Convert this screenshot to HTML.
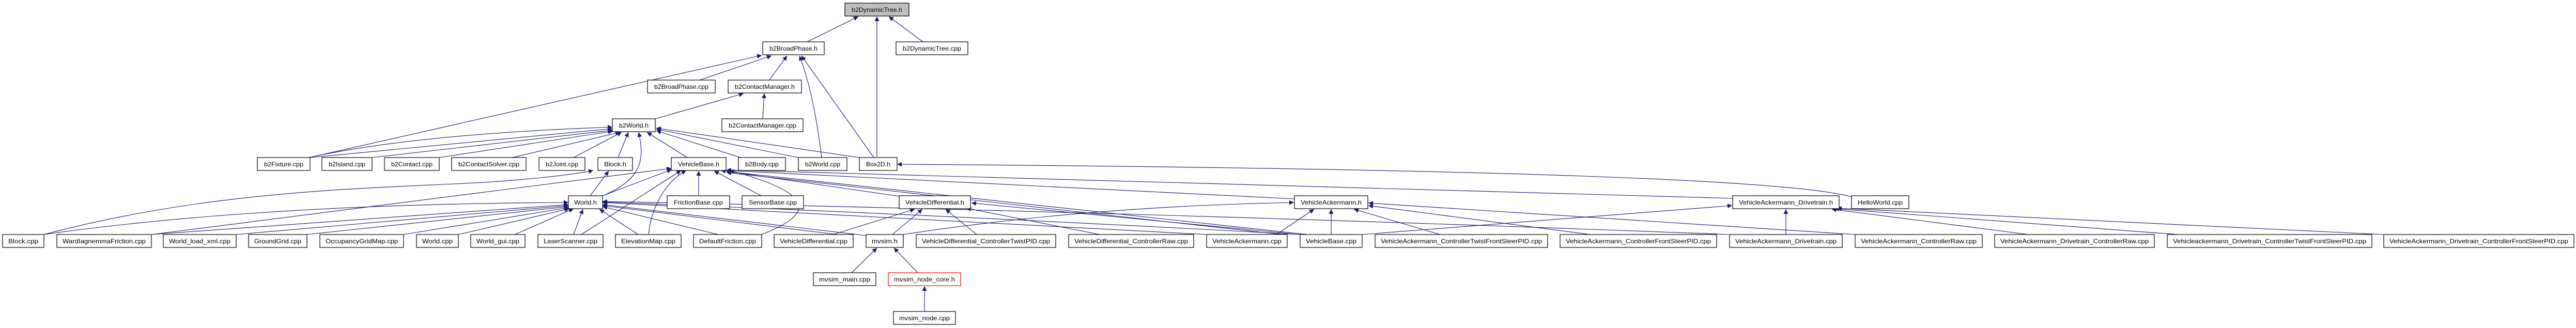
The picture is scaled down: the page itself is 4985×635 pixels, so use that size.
<!DOCTYPE html>
<html><head><meta charset="utf-8"><style>
html,body{margin:0;padding:0;background:#fff;}
svg{display:block;}
text{font-family:"Liberation Sans",sans-serif;font-size:12px;fill:#000;}
.e{fill:none;stroke:#191970;stroke-width:1.1;}
.n{fill:#fff;stroke:#000;stroke-width:1.2;}
</style></head><body>
<svg width="4985" height="635" viewBox="0 0 4985 635" xmlns="http://www.w3.org/2000/svg">
<defs><marker id="a" viewBox="0 0 10 10" refX="10" refY="5" markerWidth="9" markerHeight="9" markerUnits="userSpaceOnUse" orient="auto"><path d="M0,0 L10,5 L0,10 z" fill="#191970"/></marker></defs>
<g class="e" marker-end="url(#a)">
<path d="M1562,81 L1661,32"/>
<path d="M1697,305 L1697,32"/>
<path d="M1786,81 L1720,32"/>
<path d="M598,305 L1474,107"/>
<path d="M1354,155 L1493,108"/>
<path d="M1489,155 L1523,108"/>
<path d="M1590,305 Q1575,180 1547,108"/>
<path d="M1691,305 L1551,108"/>
<path d="M1268,230 L1439,181"/>
<path d="M1476,230 L1479,181"/>
<path d="M598,305 Q800,260 1185,246"/>
<path d="M600,305 L1185,249"/>
<path d="M720,305 L1185,252"/>
<path d="M850,305 L1186,254"/>
<path d="M991,305 L1200,256"/>
<path d="M1110,305 L1203,256"/>
<path d="M1196,305 L1216,256"/>
<path d="M1166,379 C1250,345 1245,300 1236,256"/>
<path d="M1330,305 L1252,256"/>
<path d="M1433,305 L1270,253"/>
<path d="M1545,305 L1270,250"/>
<path d="M1663,305 L1270,248"/>
<path d="M85,454 C400,370 700,365 900,355 C1000,350 1100,340 1148,330"/>
<path d="M1142,379 L1178,331"/>
<path d="M1166,379 L1300,328"/>
<path d="M293,454 L1299,326"/>
<path d="M1125,454 L1318,330"/>
<path d="M1255,454 C1260,400 1290,350 1328,330"/>
<path d="M1474,454 C1560,420 1600,380 1412,330"/>
<path d="M1352,379 L1352,331"/>
<path d="M1473,379 L1382,331"/>
<path d="M1740,380 L1395,330"/>
<path d="M2505,385 L1406,330"/>
<path d="M3353,384 L1406,329"/>
<path d="M2530,454 L1406,332"/>
<path d="M2480,454 L1406,334"/>
<path d="M3583,381 Q3400,330 1736,318"/>
<path d="M85,454 Q500,395 1100,392"/>
<path d="M293,454 L1100,396"/>
<path d="M457,454 L1100,398"/>
<path d="M594,454 L1100,400"/>
<path d="M781,454 L1100,402"/>
<path d="M887,454 L1102,404"/>
<path d="M996,454 L1110,404"/>
<path d="M1110,454 L1128,405"/>
<path d="M1235,454 L1160,405"/>
<path d="M1390,454 L1166,400"/>
<path d="M1620,454 L1166,398"/>
<path d="M1676,456 L1166,396"/>
<path d="M2335,454 Q1700,420 1166,392"/>
<path d="M2516,454 Q1800,415 1166,391"/>
<path d="M3347,454 Q2200,410 1166,390"/>
<path d="M1612,454 L1770,405"/>
<path d="M1727,454 L1785,405"/>
<path d="M1890,454 L1830,405"/>
<path d="M2128,454 L1870,403"/>
<path d="M2516,454 L1880,393"/>
<path d="M1648,528 L1697,480"/>
<path d="M1776,528 L1730,480"/>
<path d="M1789,603 L1789,554"/>
<path d="M1748,454 Q2100,400 2504,392"/>
<path d="M2470,454 L2543,405"/>
<path d="M2576,454 L2576,405"/>
<path d="M2787,454 L2620,405"/>
<path d="M3077,454 L2648,398"/>
<path d="M3590,454 L2648,393"/>
<path d="M3456,454 L3456,405"/>
<path d="M3925,454 L3545,405"/>
<path d="M4215,454 L3550,404"/>
<path d="M4612,454 L3555,403"/>
<path d="M2636,454 L3352,398"/>
</g>
<g>
<rect class="n" x="1635" y="6" width="124" height="25" style="fill:#bfbfbf"/><text x="1697" y="23" text-anchor="middle" textLength="98" lengthAdjust="spacingAndGlyphs">b2DynamicTree.h</text>
<rect class="n" x="1476" y="81" width="119" height="25"/><text x="1535.5" y="98" text-anchor="middle" textLength="93" lengthAdjust="spacingAndGlyphs">b2BroadPhase.h</text>
<rect class="n" x="1734" y="81" width="139" height="25"/><text x="1803.5" y="98" text-anchor="middle" textLength="113" lengthAdjust="spacingAndGlyphs">b2DynamicTree.cpp</text>
<rect class="n" x="1253" y="155" width="131" height="25"/><text x="1318.5" y="172" text-anchor="middle" textLength="105" lengthAdjust="spacingAndGlyphs">b2BroadPhase.cpp</text>
<rect class="n" x="1409" y="155" width="142" height="25"/><text x="1480" y="172" text-anchor="middle" textLength="116" lengthAdjust="spacingAndGlyphs">b2ContactManager.h</text>
<rect class="n" x="1185" y="230" width="83" height="25"/><text x="1226.5" y="247" text-anchor="middle" textLength="57" lengthAdjust="spacingAndGlyphs">b2World.h</text>
<rect class="n" x="1397" y="230" width="157" height="25"/><text x="1475.5" y="247" text-anchor="middle" textLength="131" lengthAdjust="spacingAndGlyphs">b2ContactManager.cpp</text>

<rect class="n" x="498" y="305" width="102" height="25"/><text x="549" y="322" text-anchor="middle" textLength="76" lengthAdjust="spacingAndGlyphs">b2Fixture.cpp</text>
<rect class="n" x="623" y="305" width="97" height="25"/><text x="671.5" y="322" text-anchor="middle" textLength="71" lengthAdjust="spacingAndGlyphs">b2Island.cpp</text>
<rect class="n" x="744" y="305" width="106" height="25"/><text x="797" y="322" text-anchor="middle" textLength="80" lengthAdjust="spacingAndGlyphs">b2Contact.cpp</text>
<rect class="n" x="874" y="305" width="144" height="25"/><text x="946" y="322" text-anchor="middle" textLength="118" lengthAdjust="spacingAndGlyphs">b2ContactSolver.cpp</text>
<rect class="n" x="1043" y="305" width="89" height="25"/><text x="1087.5" y="322" text-anchor="middle" textLength="63" lengthAdjust="spacingAndGlyphs">b2Joint.cpp</text>
<rect class="n" x="1157" y="305" width="67" height="25"/><text x="1190.5" y="322" text-anchor="middle" textLength="43" lengthAdjust="spacingAndGlyphs">Block.h</text>
<rect class="n" x="1299" y="305" width="106" height="25"/><text x="1352" y="322" text-anchor="middle" textLength="80" lengthAdjust="spacingAndGlyphs">VehicleBase.h</text>
<rect class="n" x="1429" y="305" width="91" height="25"/><text x="1474.5" y="322" text-anchor="middle" textLength="65" lengthAdjust="spacingAndGlyphs">b2Body.cpp</text>
<rect class="n" x="1545" y="305" width="94" height="25"/><text x="1592" y="322" text-anchor="middle" textLength="68" lengthAdjust="spacingAndGlyphs">b2World.cpp</text>
<rect class="n" x="1663" y="305" width="73" height="25"/><text x="1699.5" y="322" text-anchor="middle" textLength="47" lengthAdjust="spacingAndGlyphs">Box2D.h</text>

<rect class="n" x="1100" y="379" width="66" height="25"/><text x="1133" y="396" text-anchor="middle" textLength="44" lengthAdjust="spacingAndGlyphs">World.h</text>
<rect class="n" x="1291" y="379" width="121" height="25"/><text x="1351.5" y="396" text-anchor="middle" textLength="95" lengthAdjust="spacingAndGlyphs">FrictionBase.cpp</text>
<rect class="n" x="1436" y="379" width="119" height="25"/><text x="1495.5" y="396" text-anchor="middle" textLength="93" lengthAdjust="spacingAndGlyphs">SensorBase.cpp</text>
<rect class="n" x="1740" y="379" width="138" height="25"/><text x="1809" y="396" text-anchor="middle" textLength="114" lengthAdjust="spacingAndGlyphs">VehicleDifferential.h</text>
<rect class="n" x="2505" y="379" width="142" height="25"/><text x="2576" y="396" text-anchor="middle" textLength="118" lengthAdjust="spacingAndGlyphs">VehicleAckermann.h</text>
<rect class="n" x="3353" y="379" width="206" height="25"/><text x="3456" y="396" text-anchor="middle" textLength="182" lengthAdjust="spacingAndGlyphs">VehicleAckermann_Drivetrain.h</text>
<rect class="n" x="3583" y="379" width="111" height="25"/><text x="3638.5" y="396" text-anchor="middle" textLength="87" lengthAdjust="spacingAndGlyphs">HelloWorld.cpp</text>

<rect class="n" x="5" y="454" width="80" height="25"/><text x="45" y="471" text-anchor="middle" textLength="58" lengthAdjust="spacingAndGlyphs">Block.cpp</text>
<rect class="n" x="110" y="454" width="183" height="25"/><text x="201.5" y="471" text-anchor="middle" textLength="161" lengthAdjust="spacingAndGlyphs">WardIagnemmaFriction.cpp</text>
<rect class="n" x="316" y="454" width="141" height="25"/><text x="386.5" y="471" text-anchor="middle" textLength="119" lengthAdjust="spacingAndGlyphs">World_load_xml.cpp</text>
<rect class="n" x="481" y="454" width="113" height="25"/><text x="537.5" y="471" text-anchor="middle" textLength="91" lengthAdjust="spacingAndGlyphs">GroundGrid.cpp</text>
<rect class="n" x="619" y="454" width="162" height="25"/><text x="700" y="471" text-anchor="middle" textLength="140" lengthAdjust="spacingAndGlyphs">OccupancyGridMap.cpp</text>
<rect class="n" x="806" y="454" width="81" height="25"/><text x="846.5" y="471" text-anchor="middle" textLength="59" lengthAdjust="spacingAndGlyphs">World.cpp</text>
<rect class="n" x="911" y="454" width="105" height="25"/><text x="963.5" y="471" text-anchor="middle" textLength="83" lengthAdjust="spacingAndGlyphs">World_gui.cpp</text>
<rect class="n" x="1041" y="454" width="126" height="25"/><text x="1104" y="471" text-anchor="middle" textLength="104" lengthAdjust="spacingAndGlyphs">LaserScanner.cpp</text>
<rect class="n" x="1191" y="454" width="127" height="25"/><text x="1254.5" y="471" text-anchor="middle" textLength="105" lengthAdjust="spacingAndGlyphs">ElevationMap.cpp</text>
<rect class="n" x="1342" y="454" width="132" height="25"/><text x="1408" y="471" text-anchor="middle" textLength="110" lengthAdjust="spacingAndGlyphs">DefaultFriction.cpp</text>
<rect class="n" x="1498" y="454" width="153" height="25"/><text x="1574.5" y="471" text-anchor="middle" textLength="131" lengthAdjust="spacingAndGlyphs">VehicleDifferential.cpp</text>
<rect class="n" x="1676" y="454" width="72" height="25"/><text x="1712" y="471" text-anchor="middle" textLength="50" lengthAdjust="spacingAndGlyphs">mvsim.h</text>
<rect class="n" x="1773" y="454" width="270" height="25"/><text x="1908" y="471" text-anchor="middle" textLength="248" lengthAdjust="spacingAndGlyphs">VehicleDifferential_ControllerTwistPID.cpp</text>
<rect class="n" x="2068" y="454" width="242" height="25"/><text x="2189" y="471" text-anchor="middle" textLength="220" lengthAdjust="spacingAndGlyphs">VehicleDifferential_ControllerRaw.cpp</text>
<rect class="n" x="2335" y="454" width="156" height="25"/><text x="2413" y="471" text-anchor="middle" textLength="134" lengthAdjust="spacingAndGlyphs">VehicleAckermann.cpp</text>
<rect class="n" x="2516" y="454" width="120" height="25"/><text x="2576" y="471" text-anchor="middle" textLength="98" lengthAdjust="spacingAndGlyphs">VehicleBase.cpp</text>
<rect class="n" x="2661" y="454" width="334" height="25"/><text x="2828" y="471" text-anchor="middle" textLength="312" lengthAdjust="spacingAndGlyphs">VehicleAckermann_ControllerTwistFrontSteerPID.cpp</text>
<rect class="n" x="3019" y="454" width="303" height="25"/><text x="3170.5" y="471" text-anchor="middle" textLength="281" lengthAdjust="spacingAndGlyphs">VehicleAckermann_ControllerFrontSteerPID.cpp</text>
<rect class="n" x="3347" y="454" width="218" height="25"/><text x="3456" y="471" text-anchor="middle" textLength="196" lengthAdjust="spacingAndGlyphs">VehicleAckermann_Drivetrain.cpp</text>
<rect class="n" x="3590" y="454" width="246" height="25"/><text x="3713" y="471" text-anchor="middle" textLength="224" lengthAdjust="spacingAndGlyphs">VehicleAckermann_ControllerRaw.cpp</text>
<rect class="n" x="3860" y="454" width="309" height="25"/><text x="4014.5" y="471" text-anchor="middle" textLength="287" lengthAdjust="spacingAndGlyphs">VehicleAckermann_Drivetrain_ControllerRaw.cpp</text>
<rect class="n" x="4194" y="454" width="396" height="25"/><text x="4392" y="471" text-anchor="middle" textLength="374" lengthAdjust="spacingAndGlyphs">Vehicleackermann_Drivetrain_ControllerTwistFrontSteerPID.cpp</text>
<rect class="n" x="4613" y="454" width="368" height="25"/><text x="4797" y="471" text-anchor="middle" textLength="346" lengthAdjust="spacingAndGlyphs">VehicleAckermann_Drivetrain_ControllerFrontSteerPID.cpp</text>

<rect class="n" x="1574" y="528" width="121" height="25"/><text x="1634.5" y="545" text-anchor="middle" textLength="99" lengthAdjust="spacingAndGlyphs">mvsim_main.cpp</text>
<rect class="n" x="1719" y="528" width="140" height="25" style="stroke:#ff0000"/><text x="1789" y="545" text-anchor="middle" textLength="118" lengthAdjust="spacingAndGlyphs">mvsim_node_core.h</text>
<rect class="n" x="1729" y="603" width="120" height="25"/><text x="1789" y="620" text-anchor="middle" textLength="98" lengthAdjust="spacingAndGlyphs">mvsim_node.cpp</text>
</g>
</svg>
</body></html>
